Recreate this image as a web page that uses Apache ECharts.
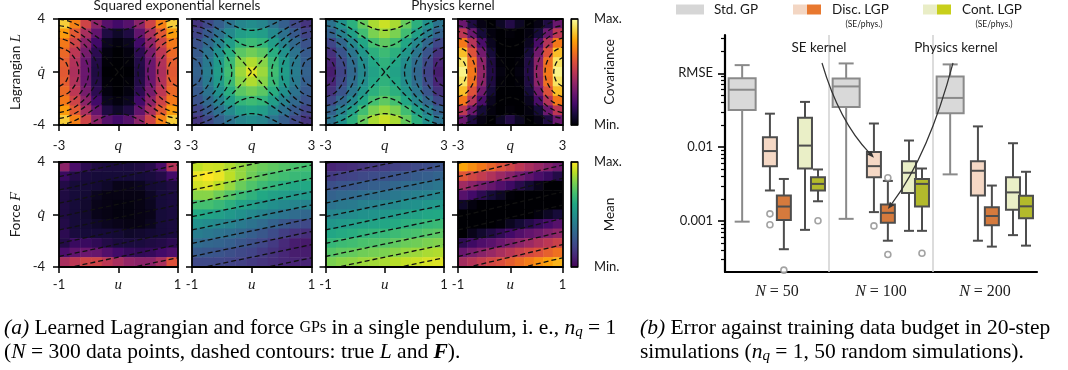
<!DOCTYPE html>
<html>
<head>
<meta charset="utf-8">
<script src="https://cdn.jsdelivr.net/npm/echarts@6.0.0/dist/echarts.min.js"></script>
<style>
html,body{margin:0;padding:0;background:#ffffff;}
#chart{width:1068px;height:370px;}
</style>
</head>
<body>
<div id="chart"></div>
<script>
// ================= DATA =================
// Heat-map panels: 11 rows (top -> bottom) x 11 columns (left -> right), normalised 0..1
const lagrangianSE_A = [
 [0.88,0.72,0.55,0.38,0.25,0.20,0.25,0.38,0.55,0.72,0.88],
 [0.78,0.62,0.45,0.28,0.12,0.07,0.12,0.28,0.45,0.62,0.78],
 [0.70,0.55,0.38,0.20,0.05,0.02,0.05,0.20,0.38,0.55,0.70],
 [0.66,0.50,0.33,0.15,0.02,0.00,0.02,0.15,0.33,0.50,0.66],
 [0.63,0.47,0.30,0.13,0.01,0.00,0.01,0.13,0.30,0.47,0.63],
 [0.62,0.46,0.30,0.12,0.00,0.00,0.00,0.12,0.30,0.46,0.62],
 [0.63,0.47,0.30,0.13,0.01,0.00,0.01,0.13,0.30,0.47,0.63],
 [0.66,0.50,0.33,0.15,0.02,0.00,0.02,0.15,0.33,0.50,0.66],
 [0.70,0.55,0.38,0.20,0.05,0.02,0.05,0.20,0.38,0.55,0.70],
 [0.78,0.62,0.45,0.28,0.12,0.07,0.12,0.28,0.45,0.62,0.78],
 [0.88,0.72,0.55,0.38,0.25,0.20,0.25,0.38,0.55,0.72,0.88]
];
const lagrangianSE_B = [
 [0.15,0.22,0.30,0.38,0.45,0.48,0.45,0.38,0.30,0.22,0.15],
 [0.20,0.28,0.37,0.47,0.55,0.58,0.55,0.47,0.37,0.28,0.20],
 [0.25,0.34,0.44,0.55,0.65,0.68,0.65,0.55,0.44,0.34,0.25],
 [0.28,0.38,0.50,0.62,0.74,0.78,0.74,0.62,0.50,0.38,0.28],
 [0.30,0.41,0.54,0.67,0.82,0.88,0.82,0.67,0.54,0.41,0.30],
 [0.31,0.42,0.55,0.69,0.85,0.95,0.85,0.69,0.55,0.42,0.31],
 [0.30,0.41,0.54,0.67,0.82,0.88,0.82,0.67,0.54,0.41,0.30],
 [0.28,0.38,0.50,0.62,0.74,0.78,0.74,0.62,0.50,0.38,0.28],
 [0.25,0.34,0.44,0.55,0.65,0.68,0.65,0.55,0.44,0.34,0.25],
 [0.20,0.28,0.37,0.47,0.55,0.58,0.55,0.47,0.37,0.28,0.20],
 [0.15,0.22,0.30,0.38,0.45,0.48,0.45,0.38,0.30,0.22,0.15]
];
const lagrangianPhys_A = [
 [0.38,0.50,0.63,0.76,0.87,0.92,0.87,0.76,0.63,0.50,0.38],
 [0.31,0.43,0.56,0.69,0.80,0.85,0.80,0.69,0.56,0.43,0.31],
 [0.21,0.33,0.46,0.59,0.70,0.75,0.70,0.59,0.46,0.33,0.21],
 [0.14,0.26,0.39,0.52,0.63,0.68,0.63,0.52,0.39,0.26,0.14],
 [0.10,0.22,0.35,0.48,0.59,0.64,0.59,0.48,0.35,0.22,0.10],
 [0.08,0.20,0.33,0.46,0.57,0.62,0.57,0.46,0.33,0.20,0.08],
 [0.10,0.22,0.35,0.48,0.59,0.64,0.59,0.48,0.35,0.22,0.10],
 [0.14,0.26,0.39,0.52,0.63,0.68,0.63,0.52,0.39,0.26,0.14],
 [0.21,0.33,0.46,0.59,0.70,0.75,0.70,0.59,0.46,0.33,0.21],
 [0.31,0.43,0.56,0.69,0.80,0.85,0.80,0.69,0.56,0.43,0.31],
 [0.38,0.50,0.63,0.76,0.87,0.92,0.87,0.76,0.63,0.50,0.38]
];
const lagrangianPhys_B = [
 [0.30,0.12,0.03,0.00,0.06,0.13,0.06,0.00,0.03,0.12,0.30],
 [0.50,0.30,0.10,0.02,0.00,0.01,0.00,0.02,0.10,0.30,0.50],
 [0.70,0.48,0.22,0.05,0.00,0.00,0.00,0.05,0.22,0.48,0.70],
 [0.85,0.60,0.32,0.10,0.00,0.00,0.00,0.10,0.32,0.60,0.85],
 [0.93,0.68,0.38,0.12,0.01,0.00,0.01,0.12,0.38,0.68,0.93],
 [0.97,0.70,0.40,0.13,0.02,0.00,0.02,0.13,0.40,0.70,0.97],
 [0.93,0.68,0.38,0.12,0.01,0.00,0.01,0.12,0.38,0.68,0.93],
 [0.85,0.60,0.32,0.10,0.00,0.00,0.00,0.10,0.32,0.60,0.85],
 [0.70,0.48,0.22,0.05,0.00,0.00,0.00,0.05,0.22,0.48,0.70],
 [0.50,0.30,0.10,0.02,0.00,0.01,0.00,0.02,0.10,0.30,0.50],
 [0.30,0.12,0.03,0.00,0.06,0.13,0.06,0.00,0.03,0.12,0.30]
];
const forceSE_A = [
 [0.38,0.22,0.15,0.12,0.11,0.11,0.11,0.12,0.14,0.22,0.48],
 [0.18,0.13,0.11,0.10,0.10,0.10,0.10,0.10,0.11,0.13,0.20],
 [0.13,0.10,0.10,0.09,0.07,0.04,0.04,0.05,0.09,0.10,0.12],
 [0.12,0.10,0.09,0.05,0.03,0.03,0.03,0.03,0.06,0.10,0.11],
 [0.12,0.10,0.08,0.04,0.03,0.02,0.02,0.03,0.05,0.10,0.11],
 [0.12,0.10,0.08,0.04,0.03,0.02,0.02,0.03,0.04,0.10,0.11],
 [0.13,0.10,0.09,0.07,0.05,0.04,0.03,0.03,0.05,0.10,0.11],
 [0.15,0.11,0.10,0.10,0.10,0.09,0.07,0.08,0.09,0.10,0.11],
 [0.13,0.18,0.18,0.16,0.13,0.11,0.11,0.11,0.12,0.13,0.15],
 [0.22,0.27,0.30,0.29,0.24,0.20,0.17,0.16,0.17,0.20,0.23],
 [0.45,0.50,0.55,0.55,0.50,0.45,0.40,0.38,0.38,0.45,0.60]
];
const forceSE_B = [
 [0.90,0.93,0.92,0.88,0.84,0.80,0.77,0.75,0.73,0.71,0.70],
 [0.97,1.00,0.97,0.90,0.84,0.78,0.74,0.71,0.69,0.67,0.66],
 [0.93,0.95,0.90,0.84,0.77,0.72,0.68,0.65,0.62,0.60,0.60],
 [0.82,0.82,0.78,0.73,0.68,0.64,0.60,0.57,0.55,0.53,0.53],
 [0.70,0.70,0.67,0.63,0.58,0.55,0.52,0.49,0.47,0.45,0.44],
 [0.60,0.58,0.56,0.53,0.50,0.47,0.44,0.41,0.38,0.35,0.33],
 [0.50,0.48,0.46,0.44,0.41,0.38,0.35,0.31,0.27,0.24,0.22],
 [0.42,0.40,0.38,0.36,0.33,0.30,0.27,0.23,0.18,0.15,0.13],
 [0.35,0.33,0.32,0.30,0.27,0.24,0.21,0.17,0.12,0.08,0.07],
 [0.28,0.27,0.26,0.24,0.22,0.20,0.17,0.14,0.11,0.08,0.08],
 [0.22,0.22,0.21,0.20,0.19,0.17,0.15,0.13,0.11,0.10,0.10]
];
const forcePhys_A = [
 [0.10,0.12,0.13,0.15,0.16,0.17,0.19,0.20,0.22,0.23,0.25],
 [0.17,0.19,0.20,0.22,0.23,0.24,0.26,0.27,0.29,0.30,0.32],
 [0.24,0.26,0.27,0.29,0.30,0.31,0.33,0.35,0.36,0.37,0.39],
 [0.31,0.33,0.34,0.36,0.37,0.38,0.40,0.42,0.43,0.44,0.46],
 [0.38,0.40,0.41,0.43,0.44,0.45,0.47,0.49,0.50,0.52,0.53],
 [0.45,0.47,0.48,0.50,0.51,0.52,0.54,0.56,0.57,0.59,0.60],
 [0.52,0.54,0.55,0.57,0.58,0.59,0.61,0.63,0.64,0.66,0.67],
 [0.59,0.61,0.62,0.64,0.65,0.66,0.68,0.70,0.71,0.73,0.74],
 [0.66,0.68,0.69,0.71,0.72,0.73,0.75,0.77,0.78,0.80,0.81],
 [0.73,0.75,0.76,0.78,0.79,0.80,0.82,0.84,0.85,0.87,0.88],
 [0.80,0.82,0.83,0.85,0.86,0.87,0.89,0.91,0.92,0.94,0.95]
];
const forcePhys_B = [
 [0.80,0.75,0.70,0.65,0.60,0.55,0.50,0.45,0.41,0.36,0.31],
 [0.61,0.56,0.52,0.47,0.42,0.37,0.32,0.27,0.22,0.18,0.13],
 [0.43,0.38,0.33,0.29,0.24,0.19,0.14,0.09,0.04,0.00,0.00],
 [0.25,0.20,0.15,0.10,0.06,0.01,0.00,0.00,0.00,0.00,0.00],
 [0.07,0.02,0.00,0.00,0.00,0.00,0.00,0.00,0.00,0.00,0.00],
 [0.00,0.00,0.00,0.00,0.00,0.00,0.00,0.00,0.02,0.06,0.10],
 [0.00,0.00,0.00,0.00,0.01,0.05,0.09,0.13,0.17,0.21,0.25],
 [0.00,0.04,0.08,0.12,0.16,0.20,0.24,0.28,0.31,0.35,0.39],
 [0.15,0.19,0.23,0.26,0.30,0.34,0.38,0.42,0.46,0.50,0.54],
 [0.29,0.33,0.37,0.41,0.45,0.49,0.53,0.57,0.60,0.64,0.68],
 [0.44,0.48,0.52,0.56,0.59,0.63,0.67,0.71,0.75,0.79,0.83]
];
// true-Lagrangian dashed contours (q, q-dot) for the four top panels
const lagrangianContours = [
 [[-3,-1.08],[-2.75,-0.87],[-2.6,-0.59],[-2.5,0],[-2.6,0.59],[-2.75,0.87],[-3,1.08]],
 [[-3,-1.88],[-2.5,-1.54],[-2.1,-0.74],[-2,0],[-2.1,0.74],[-2.5,1.54],[-3,1.88]],
 [[-3,-2.56],[-2.5,-2.31],[-2,-1.73],[-1.6,-0.78],[-1.5,0],[-1.6,0.78],[-2,1.73],[-2.5,2.31],[-3,2.56]],
 [[-3,-3.07],[-2.5,-2.87],[-2,-2.43],[-1.5,-1.7],[-1.1,-0.73],[-1,0],[-1.1,0.73],[-1.5,1.7],[-2,2.43],[-2.5,2.87],[-3,3.07]],
 [[3,-1.08],[2.75,-0.87],[2.6,-0.59],[2.5,0],[2.6,0.59],[2.75,0.87],[3,1.08]],
 [[3,-1.88],[2.5,-1.54],[2.1,-0.74],[2,0],[2.1,0.74],[2.5,1.54],[3,1.88]],
 [[3,-2.56],[2.5,-2.31],[2,-1.73],[1.6,-0.78],[1.5,0],[1.6,0.78],[2,1.73],[2.5,2.31],[3,2.56]],
 [[3,-3.07],[2.5,-2.87],[2,-2.43],[1.5,-1.7],[1.1,-0.73],[1,0],[1.1,0.73],[1.5,1.7],[2,2.43],[2.5,2.87],[3,3.07]],
 [[-3,-3.5],[-2.5,-3.34],[-2,-2.95],[-1.5,-2.39],[-1,-1.68],[-0.5,-0.87],[0,0],[0.5,0.87],[1,1.68],[1.5,2.39],[2,2.95],[2.5,3.34],[3,3.5]],
 [[-3,3.5],[-2.5,3.34],[-2,2.95],[-1.5,2.39],[-1,1.68],[-0.5,0.87],[0,0],[0.5,-0.87],[1,-1.68],[1.5,-2.39],[2,-2.95],[2.5,-3.34],[3,-3.5]],
 [[-3,3.99],[-2.5,3.84],[-2,3.52],[-1.5,3.07],[-1,2.56],[-0.5,2.11],[0,1.92],[0.5,2.11],[1,2.56],[1.5,3.07],[2,3.52],[2.5,3.84],[3,3.99]],
 [[-3,-3.99],[-2.5,-3.84],[-2,-3.52],[-1.5,-3.07],[-1,-2.56],[-0.5,-2.11],[0,-1.92],[0.5,-2.11],[1,-2.56],[1.5,-3.07],[2,-3.52],[2.5,-3.84],[3,-3.99]],
 [[-1.6,4.03],[-1.5,3.95],[-1,3.56],[-0.5,3.26],[0,3.14],[0.5,3.26],[1,3.56],[1.5,3.95],[1.6,4.03]],
 [[-1.6,-4.03],[-1.5,-3.95],[-1,-3.56],[-0.5,-3.26],[0,-3.14],[0.5,-3.26],[1,-3.56],[1.5,-3.95],[1.6,-4.03]]
];
// true-force dashed contours: q-dot value where each line meets u = -1 and u = 1
const forceContourAtUMin = [-5.2,-4.2,-3.2,-2.2,-1.18,-0.17,0.86,1.87,2.88,3.9];
const forceContourAtUMax = [-3.3,-2.3,-1.3,-0.3,0.72,1.73,2.76,3.77,4.78,5.8];

// Box plots: [lower whisker, Q1, median, Q3, upper whisker] for N = 50, 100, 200
const budgets = [50, 100, 200];
const stdGP    = [[0.00098,0.0318,0.0599,0.0858,0.129],[0.00107,0.0349,0.0664,0.085,0.136],[0.00428,0.0287,0.0464,0.0903,0.132]];
const discSE   = [[0.00259,0.00553,0.00885,0.0136,0.0284],[0.00132,0.0039,0.00553,0.00858,0.0209],[0.000541,0.00222,0.00479,0.00644,0.0191]];
const discPhys = [[0.000415,0.00103,0.00157,0.00222,0.00371],[0.000541,0.00095,0.00129,0.00167,0.00349],[0.00045,0.000876,0.00117,0.00154,0.00302]];
const contSE   = [[0.000759,0.00514,0.0105,0.0251,0.041],[0.000736,0.00239,0.0045,0.00644,0.0123],[0.000644,0.00142,0.00244,0.0039,0.0113]];
const contPhys = [[0.00185,0.00259,0.00318,0.0039,0.00499],[0.000736,0.00157,0.00318,0.00371,0.00514],[0.000464,0.00109,0.00158,0.0022,0.00464]];
const discSEOutliers   = [[0.00125,0.00089],[0.000858],[]];
const discPhysOutliers = [[0.000216],[0.00386,0.000352],[]];
const contPhysOutliers = [[0.00101],[0.000366],[]];
const rmseMajorTicks = [0.001, 0.01, 0.1];
const rmseMajorLabels = ['0.001', '0.01', 'RMSE'];
const rmseMinorTicks = [0.0003,0.0004,0.0005,0.0006,0.0007,0.0008,0.0009,0.002,0.003,0.004,0.005,0.006,0.007,0.008,0.009,0.02,0.03,0.04,0.05,0.06,0.07,0.08,0.09,0.2,0.3];

// ================= STYLE / LAYOUT =================
const inferno = ['#000004','#160b39','#420a68','#6a176e','#932667','#bc3754','#dd513a','#f37819','#fca50a','#f6d746','#fcffa4'];
const viridis = ['#440154','#482475','#414487','#355f8d','#2a788e','#21918c','#22a884','#44bf70','#7ad151','#bddf26','#fde725'];
const SANS = 'Lato';
const SERIF = 'Liberation Serif';
const INK = '#1a1a1a';

const panelLeft = [59, 192, 325.5, 458];
const panelWidth = [118.5, 119.5, 118.5, 104.5];
const rowTop = [19, 162];
const rowHeight = [106, 105];
const panels = [
  {data: lagrangianSE_A, cmap: 'inf'}, {data: lagrangianSE_B, cmap: 'vir'},
  {data: lagrangianPhys_A, cmap: 'vir'}, {data: lagrangianPhys_B, cmap: 'inf'},
  {data: forceSE_A, cmap: 'inf'}, {data: forceSE_B, cmap: 'vir'},
  {data: forcePhys_A, cmap: 'vir'}, {data: forcePhys_B, cmap: 'inf'}
];
const idx11 = Array.from({length: 11}, (_, i) => String(i));
const frame = {show: true, onZero: false, lineStyle: {color: '#000', width: 1.8}};
const mathRich = {m: {fontFamily: SERIF, fontStyle: 'italic', fontSize: 15, color: INK}};
const dashStyle = {color: '#111', width: 1.3, type: [5, 3]};

const grids = [], xAxes = [], yAxes = [], series = [];

panels.forEach((p, k) => {
  const row = k < 4 ? 0 : 1, col = k % 4;
  grids.push({left: panelLeft[col], top: rowTop[row], width: panelWidth[col], height: rowHeight[row]});
  xAxes.push({gridIndex: k, type: 'category', data: idx11, position: 'top', z: 10,
    axisLine: frame, axisTick: {show: false}, axisLabel: {show: false}, splitLine: {show: false}});
  yAxes.push({gridIndex: k, type: 'category', data: idx11, position: 'right', z: 10,
    axisLine: frame, axisTick: {show: false}, axisLabel: {show: false}, splitLine: {show: false}});
  const xr = row === 0 ? 3 : 1;
  const xName = row === 0 ? 'q' : 'u';
  xAxes.push({gridIndex: k, type: 'value', min: -xr, max: xr, interval: xr, position: 'bottom', z: 10,
    axisLine: frame, splitLine: {show: false},
    axisTick: {show: true, length: 6, lineStyle: {color: '#000', width: 1.5}},
    axisLabel: {show: true, margin: row === 0 ? 14 : 11, color: INK, fontFamily: SANS, fontSize: 13,
      formatter: v => v === 0 ? '{m|' + xName + '}' : String(v), rich: mathRich}});
  yAxes.push({gridIndex: k, type: 'value', min: -4, max: 4, interval: 4, position: 'left', z: 10,
    axisLine: frame, splitLine: {show: false},
    axisTick: {show: true, length: 6, lineStyle: {color: '#000', width: 1.5}},
    axisLabel: {show: col === 0, margin: 14, color: INK, fontFamily: SANS, fontSize: 13,
      formatter: v => v === 0 ? '{m|q\u0307}' : String(v), rich: mathRich}});
  const cells = [];
  p.data.forEach((r, ri) => r.forEach((v, ci) => cells.push([ci, 10 - ri, v])));
  series.push({type: 'heatmap', xAxisIndex: 2 * k, yAxisIndex: 2 * k, data: cells,
    silent: true, emphasis: {disabled: true}, itemStyle: {borderWidth: 0}, progressive: 0});
});

// dashed true-Lagrangian contours on the four top panels
for (let k = 0; k < 4; k++) {
  lagrangianContours.forEach(c => {
    series.push({type: 'line', xAxisIndex: 2 * k + 1, yAxisIndex: 2 * k + 1, clip: true, silent: true,
      symbol: 'none', smooth: 0.35, z: 4, data: c, lineStyle: dashStyle});
  });
}
// dashed true-force contours on the four force panels
for (let k = 4; k < 8; k++) {
  forceContourAtUMin.forEach((a, i) => {
    series.push({type: 'line', xAxisIndex: 2 * k + 1, yAxisIndex: 2 * k + 1, clip: true, silent: true,
      symbol: 'none', z: 4, data: [[-1, a], [1, forceContourAtUMax[i]]], lineStyle: dashStyle});
  });
}

// colour bars
const grad = cm => ({type: 'linear', x: 0, y: 1, x2: 0, y2: 0,
  colorStops: cm.map((c, i) => ({offset: i / (cm.length - 1), color: c}))});
[[19, 106, inferno], [162, 105, viridis]].forEach(([t, h, cm], j) => {
  const gi = 8 + j;
  grids.push({left: 571, top: t, width: 7, height: h, show: true, backgroundColor: grad(cm), borderColor: '#000', borderWidth: 1.2});
  xAxes.push({gridIndex: gi, type: 'value', show: false, min: 0, max: 1});
  yAxes.push({gridIndex: gi, type: 'value', min: 0, max: 1, interval: 1, position: 'right',
    axisLine: {show: true, lineStyle: {color: '#000', width: 1.2}}, splitLine: {show: false},
    axisTick: {show: true, length: 7, lineStyle: {color: '#000', width: 1.5}},
    axisLabel: {margin: 16, color: INK, fontFamily: SANS, fontSize: 13, formatter: v => v === 1 ? 'Max.' : 'Min.'}});
});

// box-plot grid
const BOX_GRID = 10, BOX_X = 18, BOX_Y = 18;
grids.push({left: 725, top: 35, width: 312, height: 237});
xAxes.push({gridIndex: BOX_GRID, type: 'value', min: 0, max: 3,
  axisLine: {show: true, onZero: false, lineStyle: {color: '#000', width: 2.2}},
  axisTick: {show: false}, splitLine: {show: false},
  axisLabel: {customValues: [0.5, 1.5, 2.5], margin: 12, color: INK, fontFamily: SERIF, fontSize: 16,
    formatter: v => '{i|N} = ' + budgets[Math.floor(v)],
    rich: {i: {fontFamily: SERIF, fontStyle: 'italic', fontSize: 16, color: INK}}}});
yAxes.push({gridIndex: BOX_GRID, type: 'log', min: 0.000204, max: 0.33,
  axisLine: {show: true, onZero: false, lineStyle: {color: '#000', width: 2.2}},
  axisTick: {show: true, customValues: rmseMajorTicks, length: 7, lineStyle: {color: '#000', width: 1.6}},
  splitLine: {show: false}, minorTick: {show: false},
  axisLabel: {customValues: rmseMajorTicks, margin: 12, color: INK, fontFamily: SANS, fontSize: 13,
    formatter: v => rmseMajorLabels[rmseMajorTicks.findIndex(t => Math.abs(t - v) / t < 1e-6)] || ''}});
yAxes.push({gridIndex: BOX_GRID, type: 'log', min: 0.000204, max: 0.33, position: 'left',
  axisLine: {show: false}, splitLine: {show: false},
  axisTick: {show: true, customValues: rmseMinorTicks, length: 4, lineStyle: {color: '#000', width: 1.2}},
  axisLabel: {show: false}});

const boxLayout = {
  std: {offset: 0.165, half: 13.5, cap: 7.5, fill: '#d9d9d9', stroke: '#8a8a8a'},
  discSE: {offset: 0.432, half: 7, cap: 5, fill: '#f5d8c5', stroke: '#4d4d4d'},
  discPhys: {offset: 0.566, half: 7, cap: 5, fill: '#d57a3d', stroke: '#4d4d4d'},
  contSE: {offset: 0.769, half: 7, cap: 5, fill: '#eaefc7', stroke: '#4d4d4d'},
  contPhys: {offset: 0.894, half: 7, cap: 5, fill: '#b3ba2c', stroke: '#4d4d4d'}
};
function boxSeries(name, stats, L) {
  return {
    type: 'custom', name, xAxisIndex: BOX_X, yAxisIndex: BOX_Y, z: 5, silent: true,
    encode: {x: 0, y: [1, 2, 3, 4, 5]},
    data: stats.map((s, g) => [g + L.offset, s[0], s[1], s[2], s[3], s[4]]),
    renderItem(params, api) {
      const x = api.value(0);
      const py = i => api.coord([x, api.value(i)])[1];
      const cx = api.coord([x, api.value(3)])[0];
      const yMin = py(1), yQ1 = py(2), yMed = py(3), yQ3 = py(4), yMax = py(5);
      const ls = {stroke: L.stroke, lineWidth: 2};
      return {type: 'group', children: [
        {type: 'line', shape: {x1: cx, y1: yQ3, x2: cx, y2: yMax}, style: ls},
        {type: 'line', shape: {x1: cx - L.cap, y1: yMax, x2: cx + L.cap, y2: yMax}, style: ls},
        {type: 'line', shape: {x1: cx, y1: yQ1, x2: cx, y2: yMin}, style: ls},
        {type: 'line', shape: {x1: cx - L.cap, y1: yMin, x2: cx + L.cap, y2: yMin}, style: ls},
        {type: 'rect', shape: {x: cx - L.half, y: yQ3, width: 2 * L.half, height: yQ1 - yQ3},
          style: {fill: L.fill, stroke: L.stroke, lineWidth: 2}},
        {type: 'line', shape: {x1: cx - L.half, y1: yMed, x2: cx + L.half, y2: yMed}, style: ls}
      ]};
    }
  };
}
series.push(boxSeries('Std. GP', stdGP, boxLayout.std));
series.push(boxSeries('Disc. LGP (SE)', discSE, boxLayout.discSE));
series.push(boxSeries('Disc. LGP (phys.)', discPhys, boxLayout.discPhys));
series.push(boxSeries('Cont. LGP (SE)', contSE, boxLayout.contSE));
series.push(boxSeries('Cont. LGP (phys.)', contPhys, boxLayout.contPhys));

const outlierPts = [];
[[discSEOutliers, boxLayout.discSE], [discPhysOutliers, boxLayout.discPhys], [contPhysOutliers, boxLayout.contPhys]]
  .forEach(([arr, L]) => arr.forEach((vals, g) => vals.forEach(v => outlierPts.push([g + L.offset, v]))));
series.push({type: 'scatter', xAxisIndex: BOX_X, yAxisIndex: BOX_Y, z: 6, silent: true,
  symbol: 'circle', symbolSize: 6, data: outlierPts,
  itemStyle: {color: '#ffffff', borderColor: '#8c8c8c', borderWidth: 1.6},
  markLine: {silent: true, symbol: 'none', label: {show: false}, animation: false,
    lineStyle: {color: '#d0d0d0', width: 1.5, type: 'solid'},
    data: [{xAxis: 1}, {xAxis: 2}]}});

const chart = echarts.init(document.getElementById('chart'), null, {renderer: 'canvas'});
chart.setOption({
  animation: false,
  backgroundColor: '#ffffff',
  textStyle: {fontFamily: SANS},
  grid: grids, xAxis: xAxes, yAxis: yAxes,
  visualMap: [
    {type: 'continuous', show: false, min: 0, max: 1, seriesIndex: [0, 3, 4, 7], inRange: {color: inferno}},
    {type: 'continuous', show: false, min: 0, max: 1, seriesIndex: [1, 2, 5, 6], inRange: {color: viridis}}
  ],
  series
});

// ================= annotations, legend, captions =================
function txt(x, y, text, o = {}) {
  return {type: 'text', x, y, rotation: o.rot || 0, z: 100, silent: true,
    style: {text, fill: o.fill || INK, fontFamily: o.ff || SANS, fontSize: o.fs || 13,
      fontStyle: o.fst || 'normal', fontWeight: o.fw || 'normal',
      align: o.align || 'center', verticalAlign: o.va || 'middle', rich: o.rich || {}}};
}
function arrow(start, ctrl, end) {
  const dx = end[0] - ctrl[0], dy = end[1] - ctrl[1], len = Math.hypot(dx, dy);
  const ux = dx / len, uy = dy / len, L = 7, W = 2.8;
  const base = [end[0] - ux * L, end[1] - uy * L];
  return [
    {type: 'bezierCurve', z: 100, silent: true,
      shape: {x1: start[0], y1: start[1], x2: base[0], y2: base[1], cpx1: ctrl[0], cpy1: ctrl[1]},
      style: {stroke: '#333', lineWidth: 1.2, fill: null}},
    {type: 'polygon', z: 100, silent: true,
      shape: {points: [end, [base[0] - uy * W, base[1] + ux * W], [base[0] + uy * W, base[1] - ux * W]]},
      style: {fill: '#333'}}
  ];
}
const seEnd = chart.convertToPixel({xAxisIndex: BOX_X, yAxisIndex: BOX_Y}, [1 + boxLayout.discSE.offset, 0.0072]);
const phEnd = chart.convertToPixel({xAxisIndex: BOX_X, yAxisIndex: BOX_Y}, [1 + boxLayout.discPhys.offset, 0.00145]);

const serifI = {fontFamily: SERIF, fontStyle: 'italic', fontSize: 15, color: INK};
const CAP = 21.5;
const capRich = {
  i: {fontFamily: SERIF, fontStyle: 'italic', fontSize: CAP, color: '#000'},
  bi: {fontFamily: SERIF, fontStyle: 'italic', fontWeight: 'bold', fontSize: CAP, color: '#000'},
  sc: {fontFamily: SERIF, fontSize: 16, color: '#000'},
  sub: {fontFamily: SERIF, fontStyle: 'italic', fontSize: 15, color: '#000', padding: [9, 0, 0, 0]}
};
const capOpt = {ff: SERIF, fs: CAP, align: 'left', fill: '#000', rich: capRich};

const graphics = [
  txt(177, 6, 'Squared exponential kernels', {fs: 13.5}),
  txt(453, 6, 'Physics kernel', {fs: 13.5}),
  txt(16, 72, 'Lagrangian {i|L}', {rot: Math.PI / 2, fs: 13.5, rich: {i: serifI}}),
  txt(16, 214.5, 'Force {i|F}', {rot: Math.PI / 2, fs: 13.5, rich: {i: serifI}}),
  txt(610, 72, 'Covariance', {rot: Math.PI / 2, fs: 13.5}),
  txt(610, 214.5, 'Mean', {rot: Math.PI / 2, fs: 13.5}),
  {type: 'rect', shape: {x: 676, y: 4.5, width: 28, height: 10}, style: {fill: '#d6d6d6'}, silent: true},
  txt(714, 10, 'Std. GP', {align: 'left', fs: 13.5}),
  {type: 'rect', shape: {x: 793, y: 4.5, width: 14, height: 10}, style: {fill: '#f3d6c3'}, silent: true},
  {type: 'rect', shape: {x: 807, y: 4.5, width: 14, height: 10}, style: {fill: '#e8782f'}, silent: true},
  txt(832, 10, 'Disc. LGP', {align: 'left', fs: 13.5}),
  txt(864, 24, '(SE/phys.)', {fs: 8.5}),
  {type: 'rect', shape: {x: 923, y: 4.5, width: 14, height: 10}, style: {fill: '#e9edc6'}, silent: true},
  {type: 'rect', shape: {x: 937, y: 4.5, width: 14, height: 10}, style: {fill: '#c8cf1b'}, silent: true},
  txt(962, 10, 'Cont. LGP', {align: 'left', fs: 13.5}),
  txt(994, 24, '(SE/phys.)', {fs: 8.5}),
  txt(819, 48, 'SE kernel', {fs: 13.5}),
  txt(956, 48, 'Physics kernel', {fs: 13.5}),
  ...arrow([822, 63], [839, 121], seEnd),
  ...arrow([953, 63], [929, 154], phEnd),
  txt(4, 328, '{i|(a)} Learned Lagrangian and force {sc|GPs} in a single pendulum, i. e., {i|n}{sub|q} = 1', capOpt),
  txt(4, 352, '({i|N} = 300 data points, dashed contours: true {i|L} and {bi|F}).', capOpt),
  txt(640, 328, '{i|(b)} Error against training data budget in 20-step', capOpt),
  txt(640, 352, 'simulations ({i|n}{sub|q} = 1, 50 random simulations).', capOpt)
];
chart.setOption({graphic: {elements: graphics}});
</script>
</body>
</html>
